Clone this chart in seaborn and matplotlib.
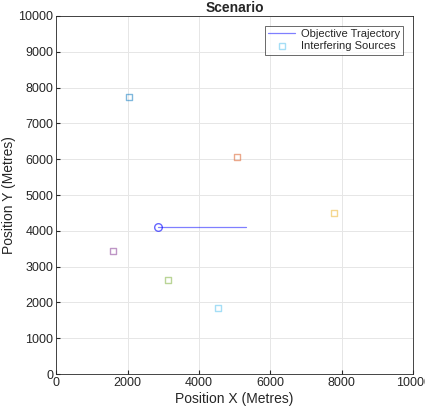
import numpy as np
import pandas as pd
import matplotlib
matplotlib.use("Agg")
import matplotlib.pyplot as plt
import seaborn as sns
from matplotlib.lines import Line2D

# Trajectory of the objective (start, end)
traj_x = [2850, 5330]
traj_y = [4100, 4100]

# Interfering sources
src_x = [2050, 5070, 7790, 1600, 3140, 4540]
src_y = [7730, 6060, 4500, 3440, 2630, 1850]
src_colors = ["#0072bd", "#d95319", "#edb120", "#7e2f8e", "#77ac30", "#4dbeee"]

sns.set_style("whitegrid")
plt.rcParams["font.family"] = ["Liberation Sans", "DejaVu Sans"]

fig = plt.figure(figsize=(4.25, 4.08), dpi=100)
ax = fig.add_axes([0.132, 0.083, 0.84, 0.878])

traj = pd.DataFrame({"x": traj_x, "y": traj_y})
sns.lineplot(data=traj, x="x", y="y", ax=ax, color="#0000ff", alpha=0.5,
             linewidth=0.9, sort=False)
ax.plot(traj_x[0], traj_y[0], marker="o", markersize=5.5, markerfacecolor="none",
        markeredgecolor="#0000ff", alpha=0.6, linestyle="none")

src = pd.DataFrame({"x": src_x, "y": src_y, "id": range(len(src_x))})
sns.scatterplot(data=src, x="x", y="y", hue="id", palette=src_colors, ax=ax,
                marker="s", s=18, linewidth=1.0, alpha=0.5, legend=False)
# seaborn fills markers; keep edges only
for coll in ax.collections:
    ec = coll.get_facecolors()
    coll.set_edgecolors(ec)
    coll.set_facecolors("none")

ax.set_xlim(0, 10000)
ax.set_ylim(0, 10000)
ax.set_xticks(np.arange(0, 10001, 2000))
ax.set_yticks(np.arange(0, 10001, 1000))
ax.tick_params(direction="in", length=3, labelsize=9, colors="#262626",
               pad=2, left=True, bottom=True)
ax.grid(color="#e6e6e6", linewidth=0.7)
for s in ax.spines.values():
    s.set_color("#262626")
    s.set_linewidth(0.6)

ax.set_xlabel("Position X (Metres)", fontsize=10, color="#262626", labelpad=2)
ax.set_ylabel("Position Y (Metres)", fontsize=10, color="#262626", labelpad=2)
ax.set_title("Scenario", fontsize=10, fontweight="bold", pad=3)

handles = [
    Line2D([], [], color="#0000ff", alpha=0.5, linewidth=0.9),
    Line2D([], [], marker="s", linestyle="none", markerfacecolor="none",
           markeredgecolor="#4dbeee", alpha=0.5, markersize=4.5),
]
leg = ax.legend(handles, ["Objective Trajectory", "Interfering Sources"],
                loc="upper right", fontsize=8, frameon=True, fancybox=False,
                borderaxespad=0.9, handlelength=2.4, handletextpad=0.5,
                labelspacing=0.2, borderpad=0.3)
leg.get_frame().set_edgecolor("#262626")
leg.get_frame().set_linewidth(0.6)

fig.savefig("out.png", dpi=100)
